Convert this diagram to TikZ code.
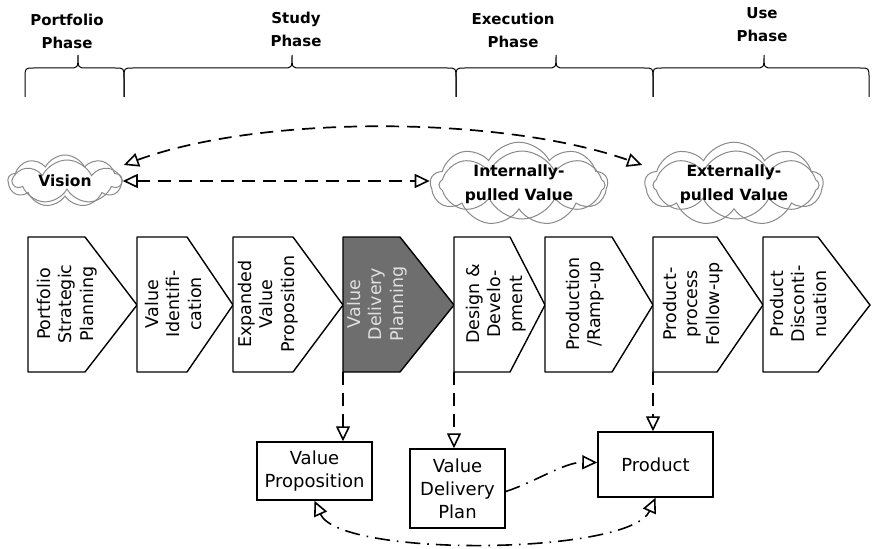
\documentclass[tikz,border=0pt]{standalone}
\usepackage{fontspec}
\setmainfont{DejaVu Sans}
\usetikzlibrary{arrows.meta,shapes.symbols,calc}
\definecolor{darkchev}{HTML}{6E6E6E}
\definecolor{cloudgray}{HTML}{8A8A8A}
\tikzset{
  chevbox/.style={draw=black, line width=1.4pt, line join=round},
  chevtext/.style={rotate=90, align=center, font=\fontsize{17.5}{21.5}\selectfont, inner sep=0pt},
  phasetext/.style={align=center, font=\fontsize{15}{23}\selectfont\bfseries},
  bracestyle/.style={draw=black, line width=1pt},
  cloudline/.style={cloud, cloud ignores aspect, draw=cloudgray, line width=1pt, inner sep=0pt},
  cloudnode/.style={cloudline, cloud puffs=9, cloud puff arc=125, align=center, font=\fontsize{15.5}{24}\selectfont\bfseries},
  outbox/.style={draw=black, line width=1.5pt, align=center, font=\fontsize{18}{23}\selectfont, inner sep=0pt},
  dashedlink/.style={line width=1.7pt, dash pattern=on 13pt off 8pt},
  dashdotlink/.style={line width=1.6pt, dash pattern=on 15pt off 7pt on 1.6pt off 7pt},
  openhead/.style={-{Triangle[open, length=15pt, width=14pt, line width=1.6pt]}},
  openboth/.style={{Triangle[open, length=15pt, width=14pt, line width=1.6pt]}-{Triangle[open, length=15pt, width=14pt, line width=1.6pt]}},
}
\newcommand\mkchev[8]{%
  \draw[chevbox, fill=#5] (#2,237) coordinate (#1-tl) -- (#3,237) -- (#4,305) coordinate (#1-tip) -- (#3,372) -- (#2,372) coordinate (#1-bl) -- cycle;
  \node[chevtext, text=#6] (#1) at (#7,304) {#8};}
\newcommand\mkbrace[3]{%
  \draw[bracestyle] (#1,97) -- (#1,78) .. controls (#1,68) .. (#1+9,68) -- (#2-9,68) .. controls (#2,68) .. (#2,55) .. controls (#2,68) .. (#2+9,68) -- (#3-9,68) .. controls (#3,68) .. (#3,78) -- (#3,97);}
\begin{document}
\begin{tikzpicture}[x=1pt, y=-1pt]
\useasboundingbox (0,0) rectangle (874,548);
\fill[white] (0,0) rectangle (874,548);

% phase labels
\node[phasetext] (ph1) at (67,31) {Portfolio\\Phase};
\node[phasetext] (ph2) at (296,29) {Study\\Phase};
\node[phasetext] (ph3) at (513,30) {Execution\\Phase};
\node[phasetext] (ph4) at (762,25) {Use\\Phase};

% braces
\mkbrace{25}{78}{124}
\mkbrace{124}{292}{456}
\mkbrace{456}{556}{653}
\mkbrace{653}{764}{869}

% clouds (second outline for the sketchy look)
\node[cloudline, cloud puffs=7, cloud puff arc=130, minimum width=106pt, minimum height=44pt] (vision2) at (67,182) {};
\node[cloudline, cloud puffs=8, cloud puff arc=130, minimum width=166pt, minimum height=68pt] (intern2) at (522,185) {};
\node[cloudline, cloud puffs=8, cloud puff arc=130, minimum width=166pt, minimum height=68pt] (extern2) at (736,185) {};
\node[cloudnode, minimum width=114pt, minimum height=52pt] (vision) at (65,181) {Vision};
\node[cloudnode, minimum width=177pt, minimum height=76pt] (intern) at (519,184) {Internally-\\pulled Value};
\node[cloudnode, minimum width=178pt, minimum height=76pt] (extern) at (734,184) {Externally-\\pulled Value};

% chevrons
\mkchev{c1}{28}{85}{137}{white}{black}{67}{Portfolio\\Strategic\\Planning}
\mkchev{c2}{137}{187}{233}{white}{black}{173}{Value\\Identifi-\\cation}
\mkchev{c3}{233}{293}{343}{white}{black}{268}{Expanded\\Value\\Proposition}
\mkchev{c4}{343}{400}{454}{darkchev}{black!12}{377}{Value\\Delivery\\Planning}
\mkchev{c5}{454}{510}{545}{white}{black}{496}{Design \&\\Develo-\\pment}
\mkchev{c6}{545}{612}{653}{white}{black}{585}{Production\\/Ramp-up}
\mkchev{c7}{653}{717}{763}{white}{black}{693}{Product-\\process\\Follow-up}
\mkchev{c8}{763}{818}{870}{white}{black}{798}{Product\\Disconti-\\nuation}

% output boxes
\node[outbox, minimum width=115pt, minimum height=58pt] (vp) at (314.5,471) {Value\\Proposition};
\node[outbox, minimum width=95pt, minimum height=79pt] (vdp) at (457.5,488.5) {Value\\Delivery\\Plan};
\node[outbox, minimum width=115pt, minimum height=65pt] (prod) at (655.5,464.5) {Product};

% cloud links
\draw[dashedlink, openboth] (vision.east) -- (vision.east -| intern.west);
\draw[dashedlink, openboth]
  ($(vision.east)+(1,-16)$) .. controls (260,115) and (500,115) .. ($(extern.west)+(-2,-19)$);

% chevron to outputs
\draw[dashedlink, openhead] (c4-bl) -- (c4-bl |- vp.north);
\draw[dashedlink, openhead] (c5-bl) -- (c5-bl |- vdp.north);
\draw[dashedlink, openhead] (c7-bl) -- (c7-bl |- prod.north);

% output links
\draw[dashdotlink, openhead] ($(vdp.east)+(0,3)$) .. controls (535,482) and (565,462) .. ($(prod.west)+(0,-2)$);
\draw[dashdotlink, openboth] (vp.south) .. controls (340,558) and (630,555) .. (prod.south);
\end{tikzpicture}
\end{document}
